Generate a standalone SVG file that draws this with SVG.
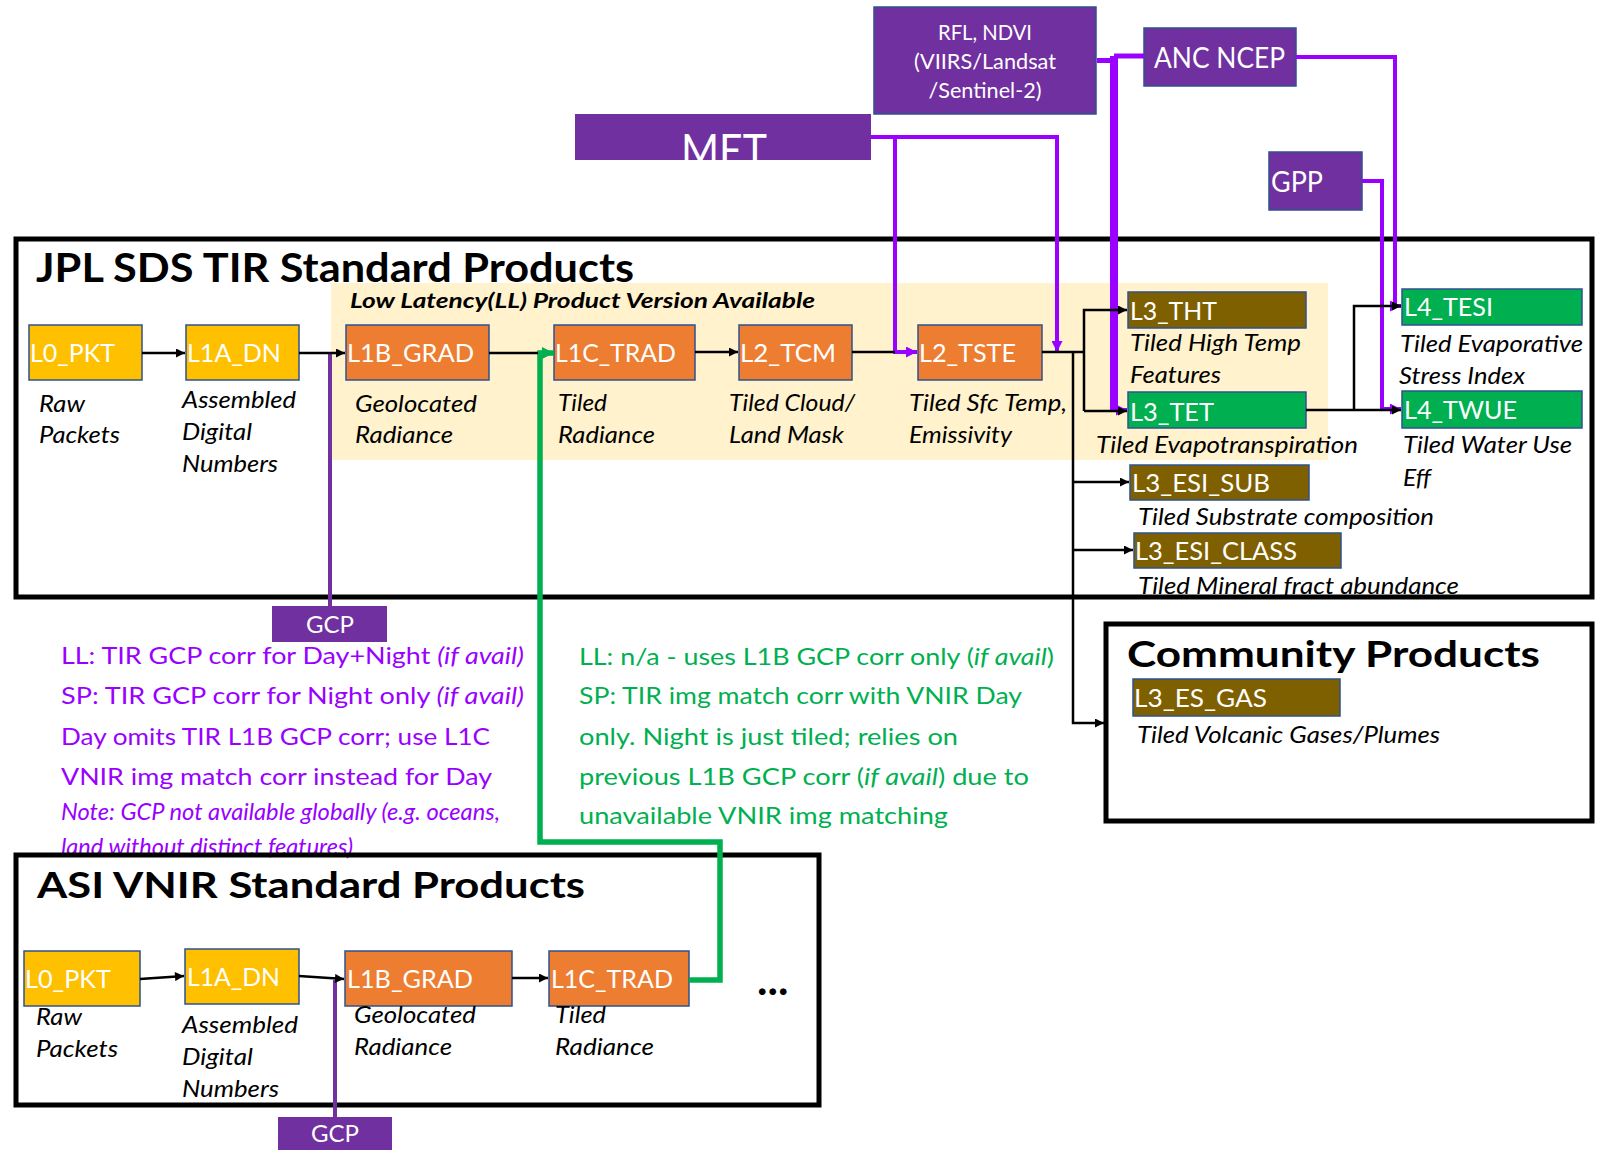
<svg xmlns="http://www.w3.org/2000/svg" width="1606" height="1150" viewBox="0 0 1606 1150">
<defs>
<style>
text{font-family:Lato,'Noto Sans','DejaVu Sans',sans-serif}
.nl{fill:#fff;font-size:25px}
.lb{fill:#000;font-size:24px;font-style:italic}
.bx{stroke:#2F528F;stroke-width:1.5}
.yel{fill:#FFC000}.org{fill:#ED7D31}.brn{fill:#7F6000}.grn{fill:#00B050}.pur{fill:#7030A0}
.frame{fill:none;stroke:#000;stroke-width:5}
.ttl{font-weight:bold;fill:#000}
.blk{fill:none;stroke:#000;stroke-width:2.5}
.vio{fill:none;stroke:#9900FF;stroke-width:4}
.vio5{fill:none;stroke:#9900FF;stroke-width:5}
.vio8{fill:none;stroke:#9900FF;stroke-width:8}
.gcp{fill:none;stroke:#7030A0;stroke-width:4}
.gl{fill:none;stroke:#00B050;stroke-width:5.5}
.pt{fill:#9900FF;font-size:24px}
.gt{fill:#00B050;font-size:23px}
.wt{fill:#fff}
</style>
<marker id="aB" viewBox="0 0 10 10" markerUnits="userSpaceOnUse" markerWidth="10" markerHeight="9" refX="10" refY="5" orient="auto"><path d="M0,0L10,5L0,10z" fill="#000"/></marker>
<marker id="aV" viewBox="0 0 10 10" markerUnits="userSpaceOnUse" markerWidth="11" markerHeight="11" refX="10" refY="5" orient="auto"><path d="M0,0L10,5L0,10z" fill="#9900FF"/></marker>
<marker id="aG" viewBox="0 0 10 10" markerUnits="userSpaceOnUse" markerWidth="12" markerHeight="12" refX="10" refY="5" orient="auto"><path d="M0,0L10,5L0,10z" fill="#00B050"/></marker>
<clipPath id="metclip"><rect x="575" y="114" width="296" height="46"/></clipPath>
</defs>
<rect width="1606" height="1150" fill="#fff"/>
<rect id="ll-band" x="331" y="283" width="997" height="177" fill="#FFF2CC"/>

<g id="sources">
<g id="rfl"><rect class="pur bx" x="874" y="7" width="222" height="107"/>
<text class="wt" font-size="21" text-anchor="middle" x="985" y="40" textLength="94" lengthAdjust="spacingAndGlyphs">RFL, NDVI</text>
<text class="wt" font-size="21" text-anchor="middle" x="985" y="69" textLength="142" lengthAdjust="spacingAndGlyphs">(VIIRS/Landsat</text>
<text class="wt" font-size="21" text-anchor="middle" x="985" y="98" textLength="113" lengthAdjust="spacingAndGlyphs">/Sentinel-2)</text></g>
<g id="met"><rect class="pur" x="575" y="114" width="296" height="46"/>
<text class="wt" clip-path="url(#metclip)" font-size="46" x="681" y="167" textLength="86" lengthAdjust="spacingAndGlyphs">MET</text></g>
<g id="anc"><rect class="pur bx" x="1144" y="28" width="152" height="58"/>
<text class="wt" font-size="28" x="1154" y="68" textLength="131" lengthAdjust="spacingAndGlyphs">ANC NCEP</text></g>
<g id="gpp"><rect class="pur bx" x="1269" y="152" width="93" height="58"/>
<text class="wt" font-size="28" x="1271" y="192" textLength="52" lengthAdjust="spacingAndGlyphs">GPP</text></g>
<g id="gcp1"><rect class="pur" x="272" y="606" width="115" height="36"/>
<text class="wt" font-size="24" text-anchor="middle" x="330" y="633" textLength="48" lengthAdjust="spacingAndGlyphs">GCP</text></g>
<g id="gcp2"><rect class="pur" x="278" y="1117" width="114" height="33"/>
<text class="wt" font-size="24" text-anchor="middle" x="335" y="1142" textLength="48" lengthAdjust="spacingAndGlyphs">GCP</text></g>
</g>

<g id="tir-nodes">
<g id="t-l0"><rect class="yel bx" x="29" y="325" width="113" height="55"/><text class="nl" x="30" y="362" textLength="85" lengthAdjust="spacingAndGlyphs">L0_PKT</text>
<text class="lb" x="39" y="412" textLength="46" lengthAdjust="spacingAndGlyphs">Raw</text><text class="lb" x="39" y="443" textLength="81" lengthAdjust="spacingAndGlyphs">Packets</text></g>
<g id="t-l1a"><rect class="yel bx" x="186" y="325" width="113" height="55"/><text class="nl" x="187" y="362" textLength="94" lengthAdjust="spacingAndGlyphs">L1A_DN</text>
<text class="lb" x="182" y="408" textLength="114" lengthAdjust="spacingAndGlyphs">Assembled</text><text class="lb" x="182" y="440" textLength="70" lengthAdjust="spacingAndGlyphs">Digital</text><text class="lb" x="182" y="472" textLength="96" lengthAdjust="spacingAndGlyphs">Numbers</text></g>
<g id="t-l1b"><rect class="org bx" x="346" y="325" width="143" height="55"/><text class="nl" x="347" y="362" textLength="127" lengthAdjust="spacingAndGlyphs">L1B_GRAD</text>
<text class="lb" x="355" y="412" textLength="122" lengthAdjust="spacingAndGlyphs">Geolocated</text><text class="lb" x="355" y="443" textLength="98" lengthAdjust="spacingAndGlyphs">Radiance</text></g>
<g id="t-l1c"><rect class="org bx" x="554" y="325" width="141" height="55"/><text class="nl" x="555" y="362" textLength="121" lengthAdjust="spacingAndGlyphs">L1C_TRAD</text>
<text class="lb" x="558" y="411" textLength="49" lengthAdjust="spacingAndGlyphs">Tiled</text><text class="lb" x="558" y="443" textLength="97" lengthAdjust="spacingAndGlyphs">Radiance</text></g>
<g id="t-l2tcm"><rect class="org bx" x="739" y="325" width="113" height="55"/><text class="nl" x="740" y="362" textLength="96" lengthAdjust="spacingAndGlyphs">L2_TCM</text>
<text class="lb" x="729" y="411" textLength="126" lengthAdjust="spacingAndGlyphs">Tiled Cloud/</text><text class="lb" x="729" y="443" textLength="115" lengthAdjust="spacingAndGlyphs">Land Mask</text></g>
<g id="t-l2tste"><rect class="org bx" x="918" y="325" width="124" height="55"/><text class="nl" x="919" y="362" textLength="97" lengthAdjust="spacingAndGlyphs">L2_TSTE</text>
<text class="lb" x="909" y="411" textLength="158" lengthAdjust="spacingAndGlyphs">Tiled Sfc Temp,</text><text class="lb" x="909" y="443" textLength="103" lengthAdjust="spacingAndGlyphs">Emissivity</text></g>
<g id="t-l3tht"><rect class="brn bx" x="1128" y="292" width="178" height="36"/><text class="nl" x="1130" y="320" textLength="87" lengthAdjust="spacingAndGlyphs">L3_THT</text>
<text class="lb" x="1130" y="351" textLength="171" lengthAdjust="spacingAndGlyphs">Tiled High Temp</text><text class="lb" x="1130" y="383" textLength="91" lengthAdjust="spacingAndGlyphs">Features</text></g>
<g id="t-l3tet"><rect class="grn bx" x="1128" y="392" width="178" height="36"/><text class="nl" x="1130" y="421" textLength="84" lengthAdjust="spacingAndGlyphs">L3_TET</text>
<text class="lb" x="1096" y="453" textLength="262" lengthAdjust="spacingAndGlyphs">Tiled Evapotranspiration</text></g>
<g id="t-l3sub"><rect class="brn bx" x="1130" y="465" width="179" height="35"/><text class="nl" x="1132" y="492" textLength="138" lengthAdjust="spacingAndGlyphs">L3_ESI_SUB</text>
<text class="lb" x="1138" y="525" textLength="296" lengthAdjust="spacingAndGlyphs">Tiled Substrate composition</text></g>
<g id="t-l3class"><rect class="brn bx" x="1134" y="533" width="207" height="35"/><text class="nl" x="1135" y="560" textLength="162" lengthAdjust="spacingAndGlyphs">L3_ESI_CLASS</text>
<text class="lb" x="1138" y="594" textLength="321" lengthAdjust="spacingAndGlyphs">Tiled Mineral fract abundance</text></g>
<g id="t-l4tesi"><rect class="grn bx" x="1402" y="289" width="180" height="36"/><text class="nl" x="1404" y="316" textLength="89" lengthAdjust="spacingAndGlyphs">L4_TESI</text>
<text class="lb" x="1400" y="352" textLength="183" lengthAdjust="spacingAndGlyphs">Tiled Evaporative</text><text class="lb" x="1399" y="384" textLength="126" lengthAdjust="spacingAndGlyphs">Stress Index</text></g>
<g id="t-l4twue"><rect class="grn bx" x="1402" y="391" width="180" height="37"/><text class="nl" x="1404" y="419" textLength="113" lengthAdjust="spacingAndGlyphs">L4_TWUE</text>
<text class="lb" x="1403" y="453" textLength="169" lengthAdjust="spacingAndGlyphs">Tiled Water Use</text><text class="lb" x="1403" y="486" textLength="28" lengthAdjust="spacingAndGlyphs">Eff</text></g>
</g>

<g id="community-nodes">
<g id="c-gas"><rect class="brn bx" x="1133" y="679" width="207" height="37"/><text class="nl" font-size="24" x="1134" y="707" textLength="133" lengthAdjust="spacingAndGlyphs">L3_ES_GAS</text>
<text class="lb" x="1137" y="743" textLength="303" lengthAdjust="spacingAndGlyphs">Tiled Volcanic Gases/Plumes</text></g>
</g>

<g id="asi-nodes">
<g id="a-l0"><rect class="yel bx" x="24" y="951" width="116" height="55"/><text class="nl" x="25" y="988" textLength="86" lengthAdjust="spacingAndGlyphs">L0_PKT</text>
<text class="lb" x="36" y="1025" textLength="46" lengthAdjust="spacingAndGlyphs">Raw</text><text class="lb" x="36" y="1057" textLength="82" lengthAdjust="spacingAndGlyphs">Packets</text></g>
<g id="a-l1a"><rect class="yel bx" x="185" y="949" width="114" height="55"/><text class="nl" x="187" y="986" textLength="93" lengthAdjust="spacingAndGlyphs">L1A_DN</text>
<text class="lb" x="182" y="1033" textLength="116" lengthAdjust="spacingAndGlyphs">Assembled</text><text class="lb" x="182" y="1065" textLength="71" lengthAdjust="spacingAndGlyphs">Digital</text><text class="lb" x="182" y="1097" textLength="97" lengthAdjust="spacingAndGlyphs">Numbers</text></g>
<g id="a-l1b"><rect class="org bx" x="345" y="951" width="167" height="55"/><text class="nl" x="347" y="988" textLength="126" lengthAdjust="spacingAndGlyphs">L1B_GRAD</text>
<text class="lb" x="354" y="1023" textLength="122" lengthAdjust="spacingAndGlyphs">Geolocated</text><text class="lb" x="354" y="1055" textLength="98" lengthAdjust="spacingAndGlyphs">Radiance</text></g>
<g id="a-l1c"><rect class="org bx" x="549" y="951" width="140" height="55"/><text class="nl" x="551" y="988" textLength="122" lengthAdjust="spacingAndGlyphs">L1C_TRAD</text>
<text class="lb" x="555" y="1023" textLength="51" lengthAdjust="spacingAndGlyphs">Tiled</text><text class="lb" x="555" y="1055" textLength="99" lengthAdjust="spacingAndGlyphs">Radiance</text></g>
<text id="a-more" class="ttl" font-size="44" x="757" y="995">...</text>
</g>

<g id="notes">
<text class="pt" x="61" y="664" textLength="463" lengthAdjust="spacingAndGlyphs">LL: TIR GCP corr for Day+Night <tspan font-style="italic">(if avail)</tspan></text>
<text class="pt" x="61" y="704" textLength="463" lengthAdjust="spacingAndGlyphs">SP: TIR GCP corr for Night only <tspan font-style="italic">(if avail)</tspan></text>
<text class="pt" x="61" y="745" textLength="429" lengthAdjust="spacingAndGlyphs">Day omits TIR L1B GCP corr; use L1C</text>
<text class="pt" x="61" y="785" textLength="431" lengthAdjust="spacingAndGlyphs">VNIR img match corr instead for Day</text>
<text class="pt" x="61" y="820" font-size="20" font-style="italic" textLength="439" lengthAdjust="spacingAndGlyphs">Note: GCP not available globally (e.g. oceans,</text>
<text class="pt" x="61" y="855" font-size="20" font-style="italic" textLength="292" lengthAdjust="spacingAndGlyphs">land without distinct features)</text>
<text class="gt" x="579" y="665" textLength="475" lengthAdjust="spacingAndGlyphs">LL: n/a - uses L1B GCP corr only (<tspan font-style="italic">if avail</tspan>)</text>
<text class="gt" x="579" y="704" textLength="443" lengthAdjust="spacingAndGlyphs">SP: TIR img match corr with VNIR Day</text>
<text class="gt" x="579" y="745" textLength="379" lengthAdjust="spacingAndGlyphs">only. Night is just tiled; relies on</text>
<text class="gt" x="579" y="785" textLength="450" lengthAdjust="spacingAndGlyphs">previous L1B GCP corr (<tspan font-style="italic">if avail</tspan>) due to</text>
<text class="gt" x="579" y="824" textLength="369" lengthAdjust="spacingAndGlyphs">unavailable VNIR img matching</text>
</g>

<g id="containers">
<g id="jpl"><rect class="frame" x="16" y="239" width="1576" height="358"/>
<text class="ttl" font-size="40" x="36" y="282" textLength="598" lengthAdjust="spacingAndGlyphs">JPL SDS TIR Standard Products</text>
<text class="ttl" font-size="21" font-style="italic" x="350" y="308" textLength="465" lengthAdjust="spacingAndGlyphs">Low Latency(LL) Product Version Available</text></g>
<g id="community"><rect class="frame" x="1106" y="624" width="486" height="197"/>
<text class="ttl" font-size="37" x="1127" y="667" textLength="413" lengthAdjust="spacingAndGlyphs">Community Products</text></g>
<g id="asi"><rect class="frame" x="16" y="855" width="803" height="250"/>
<text class="ttl" font-size="37" x="37" y="898" textLength="548" lengthAdjust="spacingAndGlyphs">ASI VNIR Standard Products</text></g>
</g>

<g id="connectors">
<path class="vio" d="M871,137H895V352H917" marker-end="url(#aV)"/>
<path class="vio" d="M895,137H1057V352" marker-end="url(#aV)"/>
<path class="vio5" d="M1097,60.5H1114"/>
<path class="vio5" d="M1144,56H1114"/>
<path class="vio8" d="M1114,56V410"/>
<path class="vio" d="M1114,410H1127" marker-end="url(#aV)"/>
<path class="vio" d="M1296,57H1395V306H1401" marker-end="url(#aV)"/>
<path class="vio" d="M1362,181H1382V409H1401" marker-end="url(#aV)"/>
<path class="gcp" d="M330,606V354"/>
<path class="gcp" d="M335,1117V980"/>
<path class="gl" d="M689,980H720V842H540V353H554" marker-end="url(#aG)"/>
<path class="blk" d="M142,353H185" marker-end="url(#aB)"/>
<path class="blk" d="M299,353H345" marker-end="url(#aB)"/>
<path class="blk" d="M489,353H538"/>
<path class="blk" d="M695,352H738" marker-end="url(#aB)"/>
<path class="blk" d="M852,352H895"/>
<path class="blk" d="M1042,352H1085"/>
<path class="blk" d="M1084,411V310H1127" marker-end="url(#aB)"/>
<path class="blk" d="M1084,411H1127" marker-end="url(#aB)"/>
<path class="blk" d="M1073,352V723H1104" marker-end="url(#aB)"/>
<path class="blk" d="M1073,482H1129" marker-end="url(#aB)"/>
<path class="blk" d="M1073,550H1133" marker-end="url(#aB)"/>
<path class="blk" d="M1306,410H1401" marker-end="url(#aB)"/>
<path class="blk" d="M1354,410V306H1401" marker-end="url(#aB)"/>
<path class="blk" d="M140,979L184,976" marker-end="url(#aB)"/>
<path class="blk" d="M299,976L344,979" marker-end="url(#aB)"/>
<path class="blk" d="M512,978H548" marker-end="url(#aB)"/>
</g>
</svg>
